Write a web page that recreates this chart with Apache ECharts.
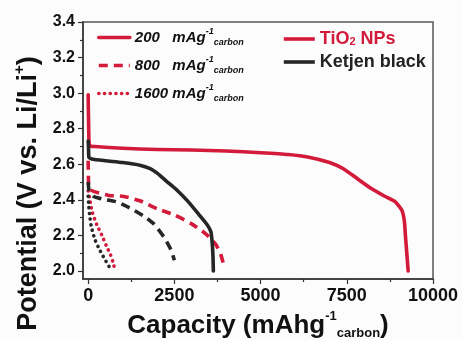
<!DOCTYPE html>
<html><head><meta charset="utf-8">
<script src="https://cdn.jsdelivr.net/npm/echarts@6/dist/echarts.min.js"></script>
<style>html,body{margin:0;padding:0;background:#fcfcfc}#c{width:463px;height:340px}</style>
</head><body><div id="c"></div>
<script>
// ---- data (capacity mAh/g_carbon, potential V) ----
const tio2_200 = [[0,2.99],[15,2.80],[40,2.705],[200,2.70],[1000,2.69],[2000,2.683],[3000,2.68],[4000,2.675],[5000,2.665],[5800,2.655],[6400,2.64],[7000,2.61],[7400,2.575],[7800,2.52],[8200,2.465],[8600,2.42],[8900,2.39],[9100,2.34],[9170,2.28],[9200,2.2],[9240,2.1],[9280,2.0]];
const tio2_800 = [[0,2.62],[10,2.5],[40,2.46],[200,2.445],[600,2.425],[1000,2.42],[1500,2.395],[2000,2.35],[2500,2.315],[3000,2.265],[3400,2.21],[3700,2.15],[3850,2.09],[3920,2.04]];
const tio2_1600 = [[0,2.45],[50,2.40],[120,2.33],[250,2.26],[400,2.20],[530,2.14],[650,2.09],[720,2.05],[770,2.01]];
const kb_200 = [[0,2.73],[10,2.70],[20,2.64],[100,2.63],[500,2.62],[1000,2.61],[1500,2.595],[1800,2.575],[2000,2.55],[2300,2.50],[2600,2.45],[2900,2.39],[3200,2.32],[3450,2.26],[3560,2.22],[3600,2.15],[3620,2.08],[3630,2.0]];
const kb_800 = [[0,2.50],[30,2.45],[150,2.42],[400,2.405],[800,2.39],[1200,2.355],[1600,2.31],[1900,2.265],[2200,2.19],[2400,2.12],[2500,2.06]];
const kb_1600 = [[0,2.42],[15,2.37],[40,2.32],[90,2.25],[200,2.175],[330,2.12],[470,2.07],[620,2.02],[650,2.0]];
const xMajor = [0,2500,5000,7500,10000];
const xMinor = [1250,3750,6250,8750];
const yMajor = [2.0,2.2,2.4,2.6,2.8,3.0,3.2,3.4];
const yMinor = [2.1,2.3,2.5,2.7,2.9,3.1,3.3];
const rateNames = ['200','800','1600'];
const materialNames = ['TiO2 NPs','Ketjen black'];

const RED = '#d41a3a', BLK = '#262626', AX = '#333';
const FONT = '"Liberation Sans", Arial, sans-serif';
const gridRect = {left:83, right:30, top:22, bottom:61, outerBoundsMode:'none', containLabel:false};
const X = {min:-150, max:10000}, Y = {min:1.955, max:3.4};

function ser(name, data, color, type, cap){
  return {name, type:'line', data, xAxisIndex:0, yAxisIndex:0, symbol:'none', showSymbol:false, smooth:0.2,
    lineStyle:{color, width:3.6, type, cap:cap||'butt', join:'round'}, itemStyle:{color}, z:3};
}
const DASH=[9,6], DOT=[0.1,5.6];
const series = [
  ser('r200', tio2_200, RED, 'solid','round'),
  ser('r800', tio2_800, RED, DASH),
  ser('r1600', tio2_1600, RED, DOT,'round'),
  ser('k200', kb_200, BLK, 'solid','round'),
  ser('k800', kb_800, BLK, DASH),
  ser('k1600', kb_1600, BLK, DOT,'round'),
  ser(materialNames[0], [], RED, 'solid'),
  ser(materialNames[1], [], BLK, 'solid')
];
const rateLabel = {r200:rateNames[0]+'   ', r800:rateNames[1]+'   ', r1600:rateNames[2]+' '};

const chart = echarts.init(document.getElementById('c'), null, {renderer:'canvas'});
chart.setOption({
  backgroundColor:'#fcfcfc',
  animation:false,
  grid:[Object.assign({show:true, borderColor:'#555', borderWidth:1.5, backgroundColor:'transparent'}, gridRect), Object.assign({}, gridRect)],
  xAxis:[
    {type:'value', gridIndex:0, min:X.min, max:X.max, position:'bottom',
     axisLine:{show:true, onZero:false, lineStyle:{color:AX, width:1.5}},
     axisTick:{show:true, customValues:xMajor, length:5, lineStyle:{color:AX, width:1.2}},
     axisLabel:{customValues:xMajor, margin:8, color:'#111', fontFamily:FONT, fontWeight:'bold', fontSize:18,
       formatter:v=>String(v)},
     splitLine:{show:false},
     name:'Capacity (mAhg{sup|-1}{sub|carbon})', nameLocation:'middle', nameGap:31,
     nameTextStyle:{color:'#111', fontFamily:FONT, fontWeight:'bold', fontSize:26,
       rich:{sup:{fontFamily:FONT, fontWeight:'bold', fontSize:13, color:'#111', padding:[0,0,18,0]},
             sub:{fontFamily:FONT, fontWeight:'bold', fontSize:13, color:'#111', padding:[16,0,0,0]}}}},
    {type:'value', gridIndex:1, min:X.min, max:X.max, position:'bottom',
     axisLine:{show:false, onZero:false}, axisLabel:{show:false}, splitLine:{show:false},
     axisTick:{show:true, customValues:xMinor, length:3, lineStyle:{color:AX, width:1.2}}}
  ],
  yAxis:[
    {type:'value', gridIndex:0, min:Y.min, max:Y.max, position:'left',
     axisLine:{show:true, onZero:false, lineStyle:{color:AX, width:1.5}},
     axisTick:{show:true, customValues:yMajor, length:5, lineStyle:{color:AX, width:1.2}},
     axisLabel:{customValues:yMajor, margin:8, color:'#111', fontFamily:FONT, fontWeight:'bold', fontSize:16,
       formatter:v=>v.toFixed(1)},
     splitLine:{show:false},
     name:'Potential (V vs. Li/Li{sup|+})', nameLocation:'middle', nameGap:36, nameRotate:90,
     nameTextStyle:{color:'#111', fontFamily:FONT, fontWeight:'bold', fontSize:27, padding:[0,86,0,0],
       rich:{sup:{fontFamily:FONT, fontWeight:'bold', fontSize:15, color:'#111', padding:[0,0,16,0]}}}},
    {type:'value', gridIndex:1, min:Y.min, max:Y.max, position:'left',
     axisLine:{show:false, onZero:false}, axisLabel:{show:false}, splitLine:{show:false},
     axisTick:{show:true, customValues:yMinor, length:3, lineStyle:{color:AX, width:1.2}}}
  ],
  legend:[
    {data:['r200','r800','r1600'], orient:'vertical', left:97, top:27, padding:0, itemWidth:31, itemHeight:14, itemGap:8,
     lineStyle:{width:3.6}, itemStyle:{opacity:0}, selectedMode:false,
     formatter:n=>'{i|'+rateLabel[n]+'mAg}{sup|-1}{sub|carbon}',
     textStyle:{color:'#111', rich:{
       i:{fontFamily:FONT, fontWeight:'bold', fontStyle:'italic', fontSize:15, color:'#111'},
       sup:{fontFamily:FONT, fontWeight:'bold', fontStyle:'italic', fontSize:9, color:'#111', padding:[0,0,12,0]},
       sub:{fontFamily:FONT, fontWeight:'bold', fontStyle:'italic', fontSize:9, color:'#111', padding:[10,0,0,0]}}}},
    {data:materialNames, orient:'vertical', left:282, top:30, padding:0, itemWidth:31, itemHeight:14, itemGap:5,
     lineStyle:{width:3.6}, itemStyle:{opacity:0}, selectedMode:false,
     formatter:n=>n==='TiO2 NPs'?'{r|TiO}{s|2}{r| NPs}':'{k|'+n+'}',
     textStyle:{rich:{
       r:{fontFamily:FONT, fontWeight:'bold', fontSize:18, color:RED},
       s:{fontFamily:FONT, fontWeight:'bold', fontSize:11, color:RED, padding:[5,0,0,0]},
       k:{fontFamily:FONT, fontWeight:'bold', fontSize:18, color:'#222'}}}}
  ],
  series
});
</script></body></html>
